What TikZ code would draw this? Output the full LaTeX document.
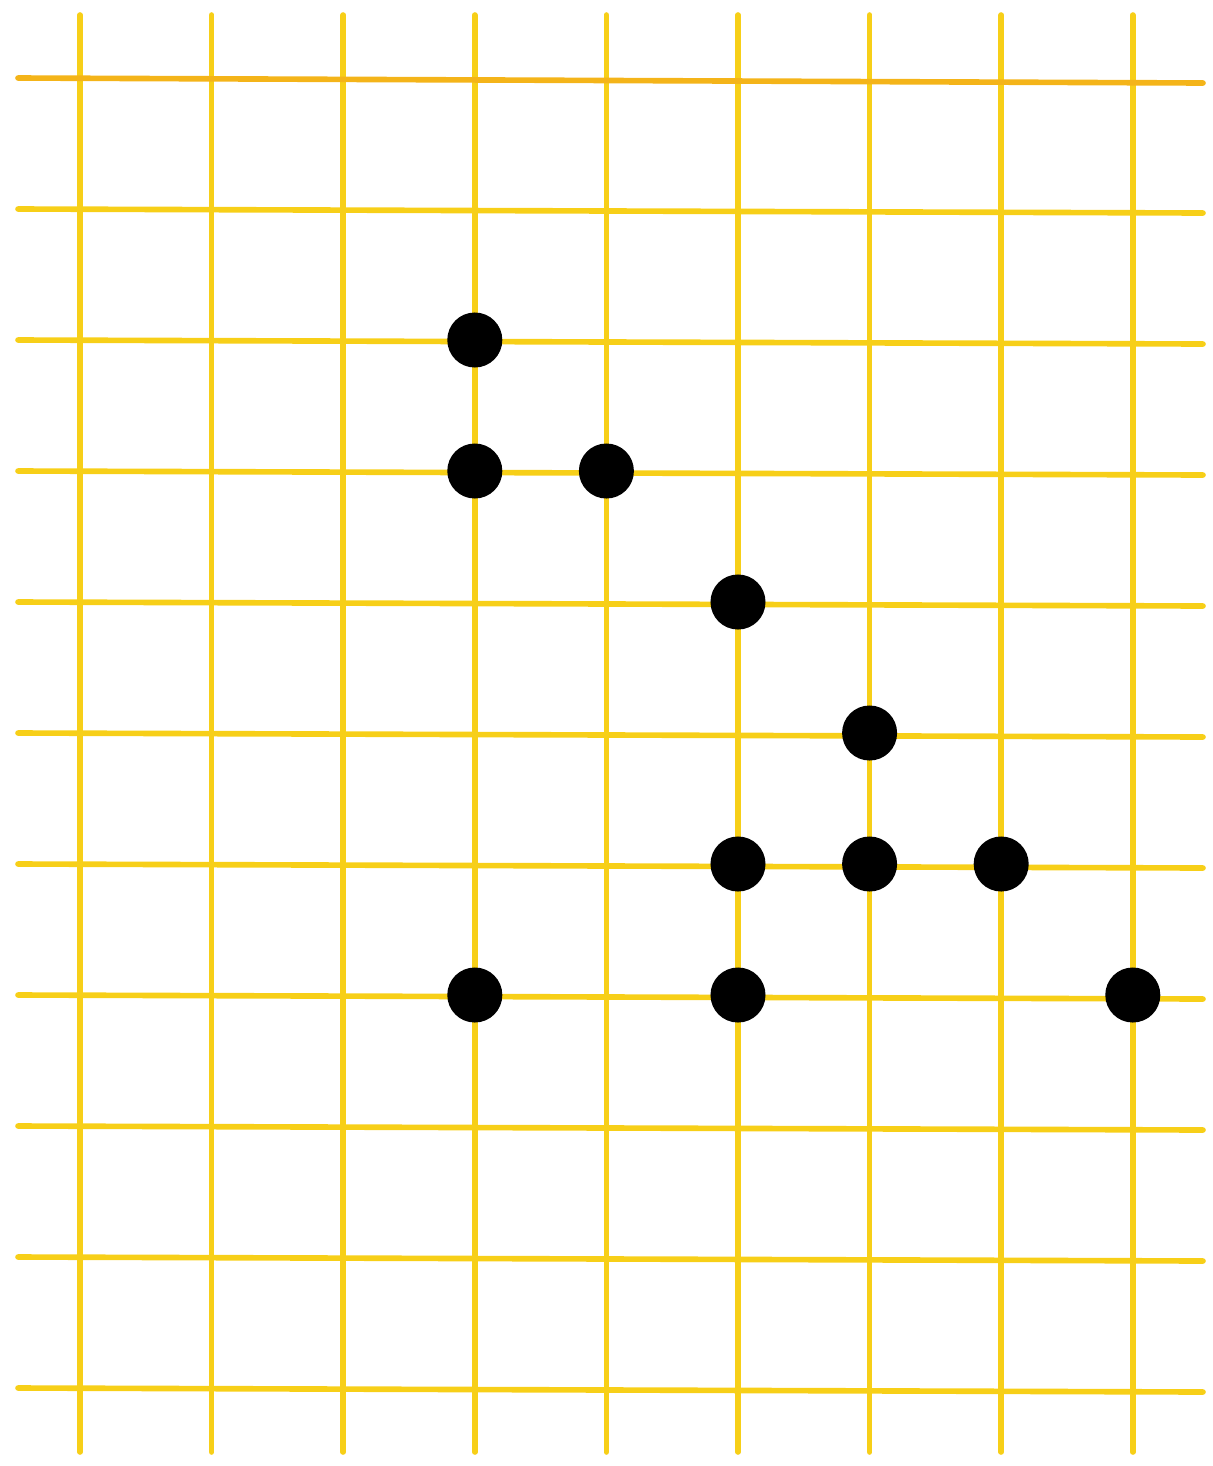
\documentclass[tikz,border=0pt]{standalone}
\usepackage{tikz}
\usetikzlibrary{positioning}
\definecolor{gridyellow}{HTML}{F7CF18}
\definecolor{gridorange}{HTML}{F4B419}

\begin{document}
\begin{tikzpicture}[
  x=0.01cm, y=-0.01cm,
  gridline/.style={gridyellow, line width=1.6pt, line cap=round},
  dot/.style={circle, fill=black, inner sep=0pt, minimum size=0.55cm}
]
\useasboundingbox (0,0) rectangle (1213,1466);

% vertical lines
\foreach \i in {0,...,8}
  \draw[gridline] ({80+131.6*\i},15) -- ({80+131.6*\i},1452);

% horizontal lines
\draw[gridline, gridorange] (18,78) -- (1203,83);
\foreach \j in {1,...,10}
  \draw[gridline] (18,{78+131*\j}) -- (1203,{82+131*\j});

% marked points
\foreach \c/\r [count=\k] in {3/2, 3/3, 4/3, 5/4, 6/5, 5/6, 6/6, 7/6, 3/7, 5/7, 8/7}
  \node[dot] (p\k) at ({80+131.6*\c},{78+131*\r}) {};

\end{tikzpicture}
\end{document}
